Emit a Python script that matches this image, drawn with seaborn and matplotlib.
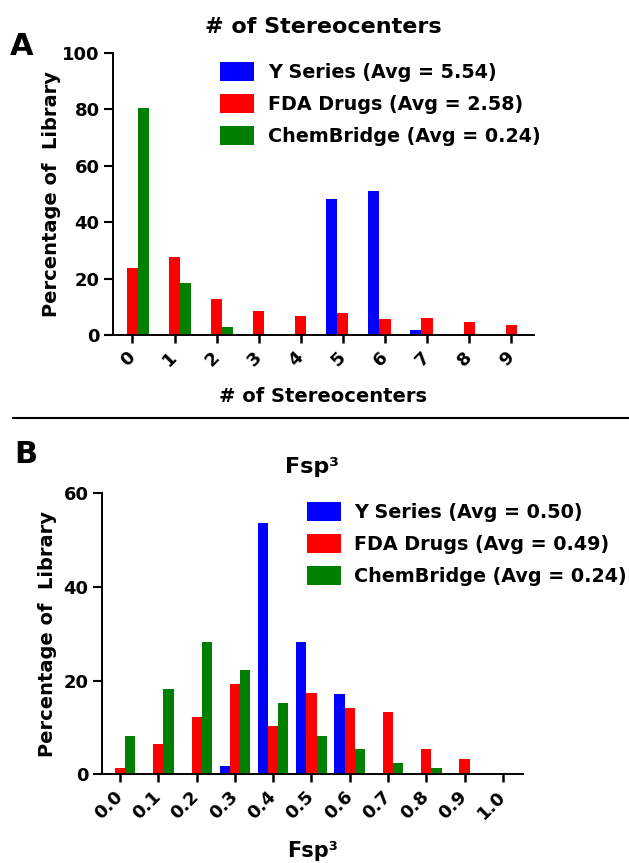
import numpy as np
import pandas as pd
import matplotlib
matplotlib.use("Agg")
import matplotlib.pyplot as plt
import seaborn as sns
from matplotlib.lines import Line2D

# ---------------- data ----------------
stereo_categories = ["0", "1", "2", "3", "4", "5", "6", "7", "8", "9"]
stereo_series = ["Y Series (Avg = 5.54)", "FDA Drugs (Avg = 2.58)", "ChemBridge (Avg = 0.24)"]
stereo_yseries = [0, 0, 0, 0, 0, 48.4, 51.2, 1.9, 0, 0]
stereo_fda = [23.7, 27.7, 12.7, 8.6, 6.6, 7.8, 5.8, 5.9, 4.7, 3.55]
stereo_chembridge = [80.6, 18.6, 2.7, 0, 0, 0, 0, 0, 0, 0]
stereo_yticks = [0, 20, 40, 60, 80, 100]

fsp3_categories = ["0.0", "0.1", "0.2", "0.3", "0.4", "0.5", "0.6", "0.7", "0.8", "0.9", "1.0"]
fsp3_series = ["Y Series (Avg = 0.50)", "FDA Drugs (Avg = 0.49)", "ChemBridge (Avg = 0.24)"]
fsp3_yseries = [0, 0, 0, 1.85, 53.7, 28.3, 17.1, 0, 0, 0, 0]
fsp3_fda = [1.35, 6.4, 12.3, 19.3, 10.4, 17.4, 14.2, 13.3, 5.4, 3.3, 0]
fsp3_chembridge = [8.26, 18.3, 28.3, 22.3, 15.2, 8.26, 5.4, 2.35, 1.35, 0, 0]
fsp3_yticks = [0, 20, 40, 60]

colors = ["#0000FF", "#FF0000", "#008000"]

# ---------------- style ----------------
sns.set_theme(style="ticks")
plt.rcParams["font.family"] = ["DejaVu Sans"]
plt.rcParams["font.weight"] = "bold"
plt.rcParams["axes.labelweight"] = "bold"
plt.rcParams["axes.titleweight"] = "bold"
plt.rcParams["axes.linewidth"] = 1.4
plt.rcParams["axes.edgecolor"] = "black"
plt.rcParams["xtick.color"] = "black"
plt.rcParams["ytick.color"] = "black"
plt.rcParams["text.color"] = "black"
plt.rcParams["axes.labelcolor"] = "black"
plt.rcParams["axes.titlecolor"] = "black"

W, H = 629, 863
fig = plt.figure(figsize=(W / 100, H / 100), dpi=100)


def px_axes(left, right, top, bottom):
    return fig.add_axes([left / W, 1 - bottom / H, (right - left) / W, (bottom - top) / H])


def long_df(cats, series, arrays):
    rows = []
    for s, arr in zip(series, arrays):
        for c, v in zip(cats, arr):
            rows.append({"cat": c, "series": s, "pct": v})
    return pd.DataFrame(rows)


def draw(ax, cats, series, arrays, yticks, xlim, title, title_y, xlabel, xlabel_y,
         xlabel_size, ylabel_x, legend_anchor, legend_size):
    df = long_df(cats, series, arrays)
    sns.barplot(data=df, x="cat", y="pct", hue="series", order=cats, hue_order=series,
                palette=colors, saturation=1, width=0.8, gap=0, errorbar=None,
                linewidth=0, edgecolor="none", ax=ax, legend=True)
    ax.set_xlim(*xlim)
    ax.set_ylim(yticks[0], yticks[-1])
    ax.set_yticks(yticks)
    ax.set_yticklabels([str(t) for t in yticks], fontsize=13, fontweight="bold")
    ax.set_xticks(range(len(cats)))
    ax.set_xticklabels(cats, fontsize=13, fontweight="bold", rotation=45,
                       ha="right", va="center", rotation_mode="anchor")
    ax.tick_params(axis="y", length=6.5, width=1.5, pad=3)
    ax.tick_params(axis="x", length=6, width=1.8, pad=8)
    sns.despine(ax=ax)
    ax.set_title(title, fontsize=16, fontweight="bold", y=title_y, pad=0)
    ax.set_xlabel(xlabel, fontsize=xlabel_size, fontweight="bold")
    ax.xaxis.set_label_coords(0.5, xlabel_y)
    ax.set_ylabel("Percentage of  Library", fontsize=14, fontweight="bold")
    ax.yaxis.set_label_coords(ylabel_x, 0.5)
    sns.move_legend(ax, "upper left", bbox_to_anchor=legend_anchor,
                    bbox_transform=fig.transFigure, frameon=False, title=None,
                    prop={"size": legend_size, "weight": "bold"},
                    handlelength=1.77, handleheight=1.15, handletextpad=0.72,
                    labelspacing=0.63, borderpad=0, borderaxespad=0)


# Panel A
axA = px_axes(112.7, 533.5, 53, 335)
draw(axA, stereo_categories, stereo_series,
     [stereo_yseries, stereo_fda, stereo_chembridge], stereo_yticks,
     (-0.47, 9.53), "# of Stereocenters", 1.0709, "# of Stereocenters", -0.1855, 14,
     -0.124, (220 / W, 1 - 62 / H), 13.8)

# Panel B
axB = px_axes(101.7, 522.7, 493.3, 774.3)
draw(axB, fsp3_categories, fsp3_series,
     [fsp3_yseries, fsp3_fda, fsp3_chembridge], fsp3_yticks,
     (-0.48, 10.52), "Fsp\u00b3", 1.0722, "Fsp\u00b3", -0.237, 15,
     -0.105, (306.7 / W, 1 - 502 / H), 13.8)

# panel letters and separator
fig.text(10 / W, 1 - 55 / H, "A", fontsize=22, fontweight="bold", ha="left", va="baseline")
fig.text(14 / W, 1 - 463 / H, "B", fontsize=22, fontweight="bold", ha="left", va="baseline")
fig.add_artist(Line2D([12.7 / W, 1.0], [1 - 418 / H, 1 - 418 / H],
                      transform=fig.transFigure, color="black", lw=1.5))

fig.savefig("out.png", dpi=100)
